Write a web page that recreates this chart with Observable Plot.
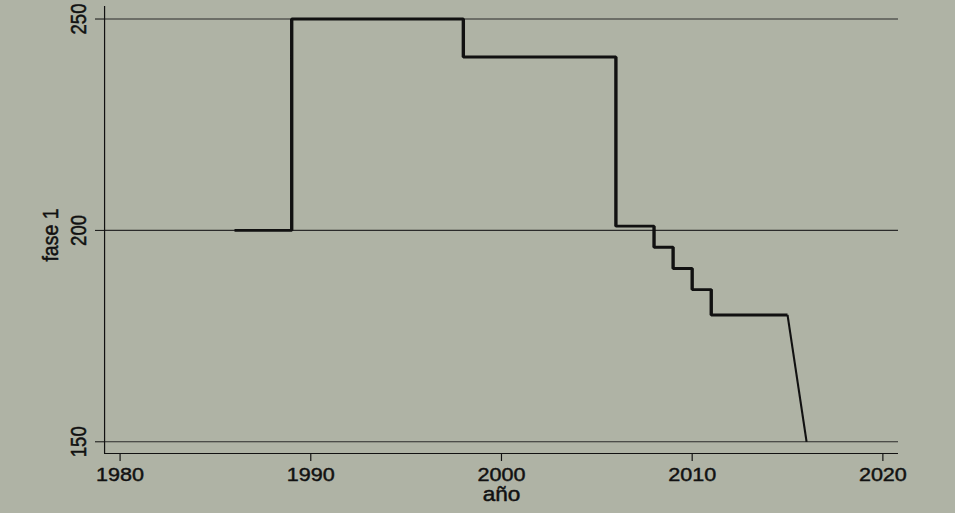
<!DOCTYPE html>
<html>
<head>
<meta charset="utf-8">
<script src="https://cdn.jsdelivr.net/npm/d3@7"></script>
<script src="https://cdn.jsdelivr.net/npm/@observablehq/plot@0.6"></script>
<style>
  html, body { margin: 0; padding: 0; background: #afb3a5; overflow: hidden; }
  #chart svg { display: block; }
</style>
</head>
<body>
<div id="chart"></div>
<script>
// Data
const years = [1986, 1989, 1998, 2006, 2008, 2009, 2010, 2011, 2015, 2016];
const fase1 = [200, 250, 241, 201, 196, 191, 186, 180, 180, 150];
const xTicks = [1980, 1990, 2000, 2010, 2020];
const yTicks = [150, 200, 250];
const xTitle = "año";
const yTitle = "fase 1";

const data = years.map((y, i) => ({ year: y, value: fase1[i] }));
const stepPart = data.slice(0, 9);
const lastPart = data.slice(8);

const BG = "#afb3a5";
const INK = "#111111";
const W = 955, H = 513;
const SX = 1.1604;           // horizontal stretch of the original rendering
const W0 = Math.round(W / SX);

const xDomain = [1979.187, 2020.823];
const yDomain = [147.23, 252.96];

const textStyle = { fill: INK, stroke: INK, strokeWidth: 0.45, lineAnchor: "middle", textAnchor: "middle" };

const chart = Plot.plot({
  width: W0,
  height: H,
  marginLeft: 104 / SX,
  marginRight: W0 - 898 / SX,
  marginTop: 6,
  marginBottom: 60,
  style: { background: BG, fontFamily: "'Liberation Sans', Arial, sans-serif", color: INK },
  x: { domain: xDomain, axis: null },
  y: { domain: yDomain, axis: null },
  marks: [
    // gridlines
    Plot.ruleY(yTicks, { y: d => d, stroke: "#2b2b2b", strokeWidth: 1.1 }),
    // y tick marks
    Plot.axisY({ ticks: yTicks, tickSize: 9 / SX, tickFormat: () => "", stroke: INK, label: null }),
    // x tick marks
    Plot.axisX({ ticks: xTicks, tickSize: 8, tickFormat: () => "", stroke: INK, label: null }),
    // axis lines
    Plot.ruleX([xDomain[0]], { x: d => d, stroke: INK, strokeWidth: 1.2 / SX }),
    Plot.ruleY([yDomain[0]], { y: d => d, stroke: INK, strokeWidth: 1.2 }),
    // tick labels
    Plot.text(xTicks, { x: d => d, text: d => String(d), frameAnchor: "bottom", dy: 21.3,
      fontSize: 18.6, ...textStyle }),
    Plot.text(yTicks, { y: d => d, text: d => String(d), frameAnchor: "left", dx: -22.1,
      rotate: -90, fontSize: 18.6, ...textStyle }),
    // axis titles
    Plot.text([xTitle], { text: d => d, frameAnchor: "bottom", dy: 40.9,
      fontSize: 19.5, ...textStyle }),
    Plot.text([yTitle], { text: d => d, frameAnchor: "left", dx: -46.5, dy: 5,
      rotate: -90, fontSize: 19.5, ...textStyle }),
    // series
    Plot.line(stepPart, { x: "year", y: "value", curve: "step-after", stroke: INK,
      strokeWidth: 2.9, strokeLinejoin: "miter", strokeLinecap: "butt" }),
    Plot.line(lastPart, { x: "year", y: "value", stroke: INK,
      strokeWidth: 1.8, strokeLinejoin: "miter", strokeLinecap: "butt" })
  ]
});

chart.setAttribute("width", W);
chart.setAttribute("height", H);
chart.setAttribute("viewBox", `0 0 ${W0} ${H}`);
chart.setAttribute("preserveAspectRatio", "none");
chart.style.width = W + "px";
chart.style.height = H + "px";
chart.style.maxWidth = "none";
document.getElementById("chart").appendChild(chart);
</script>
</body>
</html>
